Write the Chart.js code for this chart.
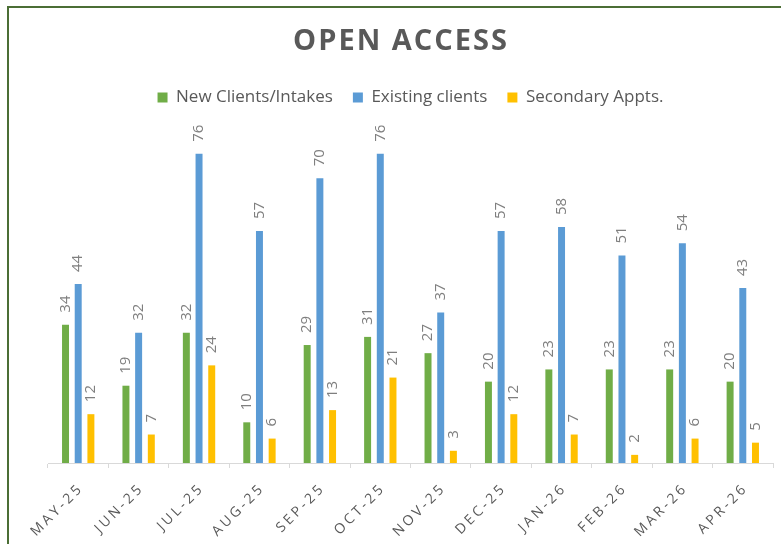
<!DOCTYPE html>
<html>
<head>
<meta charset="utf-8">
<script src="https://cdn.jsdelivr.net/npm/chart.js@4"></script>
<style>
  html, body { margin: 0; padding: 0; background: #fff; }
  #wrap { width: 781px; height: 544px; }
</style>
</head>
<body>
<div id="wrap"><canvas id="openAccessChart" width="781" height="544"></canvas></div>
<script>
const months = ['MAY-25', 'JUN-25', 'JUL-25', 'AUG-25', 'SEP-25', 'OCT-25',
    'NOV-25', 'DEC-25', 'JAN-26', 'FEB-26', 'MAR-26', 'APR-26'];
const newClients = [34, 19, 32, 10, 29, 31, 27, 20, 23, 23, 23, 20];
const existingClients = [44, 32, 76, 57, 70, 76, 37, 57, 58, 51, 54, 43];
const secondaryAppts = [12, 7, 24, 6, 13, 21, 3, 12, 7, 2, 6, 5];
const chartTitle = 'OPEN ACCESS';

const green = '#70ad47';
const blue = '#5b9bd5';
const yellow = '#ffc000';
const textCol = '#595959';
const labelCol = '#7f7f7f';
const axisCol = '#d9d9d9';
const fontFam = "'Open Sans', sans-serif";

Chart.defaults.font.family = fontFam;
Chart.defaults.color = textCol;

// green frame and letter spaced title
const framePlugin = {
    id: 'frame',
    beforeDraw(chart) {
        const ctx = chart.ctx;
        ctx.save();
        ctx.strokeStyle = '#4b6e35';
        ctx.lineWidth = 2;
        ctx.beginPath();
        ctx.moveTo(8, 544);
        ctx.lineTo(8, 7);
        ctx.lineTo(781, 7);
        ctx.stroke();

        ctx.fillStyle = textCol;
        ctx.font = 'bold 29px ' + fontFam;
        ctx.letterSpacing = '2px';
        ctx.textAlign = 'center';
        ctx.textBaseline = 'middle';
        ctx.fillText(chartTitle, 401, 42);
        ctx.restore();
    }
};

// rotated value labels above the bars
const valueLabels = {
    id: 'valueLabels',
    afterDatasetsDraw(chart) {
        const ctx = chart.ctx;
        ctx.save();
        ctx.fillStyle = labelCol;
        ctx.font = '15px ' + fontFam;
        ctx.textAlign = 'left';
        ctx.textBaseline = 'middle';
        chart.data.datasets.forEach((ds, i) => {
            chart.getDatasetMeta(i).data.forEach((bar, j) => {
                ctx.save();
                ctx.translate(bar.x, bar.y - 12);
                ctx.rotate(-Math.PI / 2);
                ctx.fillText(ds.data[j], 0, 0);
                ctx.restore();
            });
        });
        ctx.restore();
    }
};

// month labels, slanted and letter spaced
const monthLabels = {
    id: 'monthLabels',
    afterDraw(chart) {
        const ctx = chart.ctx;
        const x = chart.scales.x;
        ctx.save();
        ctx.fillStyle = textCol;
        ctx.font = '14px ' + fontFam;
        ctx.letterSpacing = '3px';
        ctx.textAlign = 'right';
        ctx.textBaseline = 'middle';
        months.forEach((m, i) => {
            ctx.save();
            ctx.translate(x.getPixelForTick(i) + 3, x.top + 23);
            ctx.rotate(-Math.PI / 4);
            ctx.fillText(m, 0, 0);
            ctx.restore();
        });
        ctx.restore();
    }
};

new Chart(document.getElementById('openAccessChart'), {
    type: 'bar',
    data: {
        labels: months,
        datasets: [{
            label: 'New Clients/Intakes',
            data: newClients,
            backgroundColor: green
        }, {
            label: 'Existing clients',
            data: existingClients,
            backgroundColor: blue
        }, {
            label: 'Secondary Appts.',
            data: secondaryAppts,
            backgroundColor: yellow
        }]
    },
    options: {
        responsive: false,
        animation: false,
        categoryPercentage: 0.63,
        barPercentage: 0.55,
        layout: {
            padding: { left: 48, right: 8, top: 69, bottom: 0 }
        },
        plugins: {
            title: { display: false },
            legend: {
                labels: {
                    boxWidth: 10,
                    boxHeight: 10,
                    padding: 20,
                    color: textCol,
                    font: { size: 17 }
                }
            },
            tooltip: { enabled: false }
        },
        scales: {
            x: {
                grid: {
                    drawOnChartArea: false,
                    color: axisCol,
                    tickLength: 5
                },
                border: { color: axisCol },
                ticks: { display: false },
                afterFit: s => { s.height = 81; }
            },
            y: {
                display: false,
                min: 0,
                max: 85.3
            }
        }
    },
    plugins: [framePlugin, valueLabels, monthLabels]
});
</script>
</body>
</html>
